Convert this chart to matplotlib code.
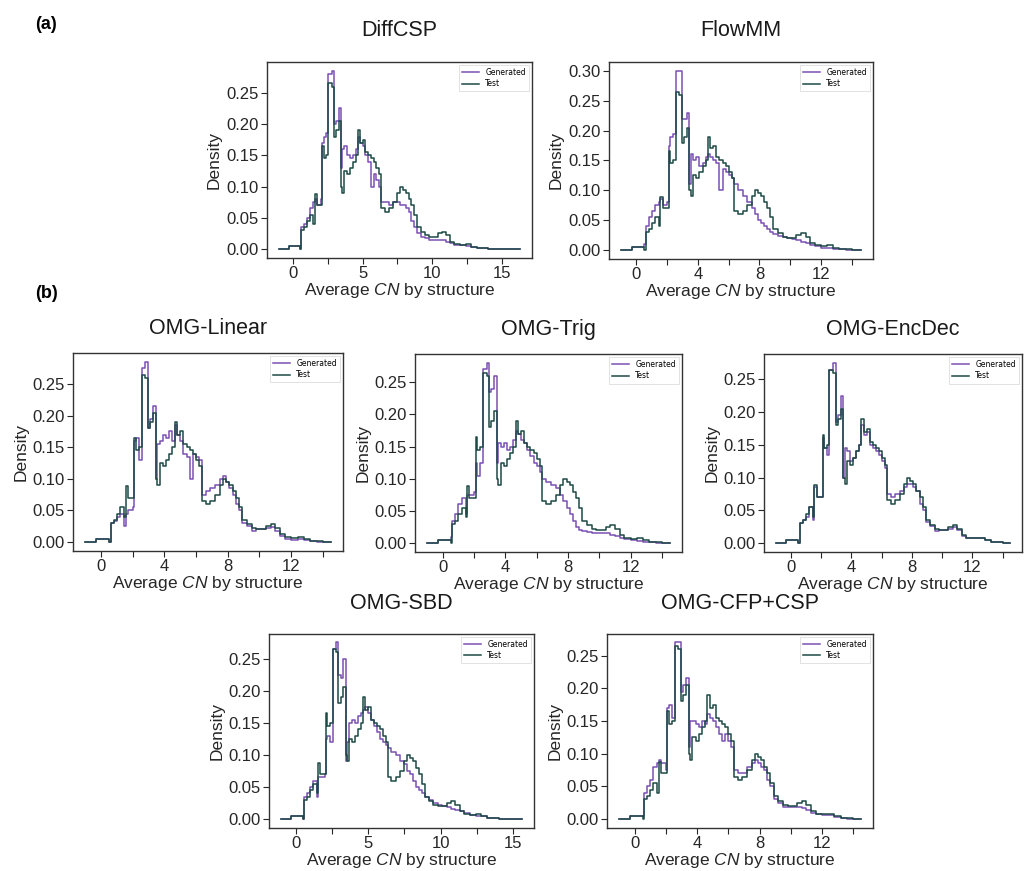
import numpy as np
import matplotlib
matplotlib.use("Agg")
import matplotlib.pyplot as plt
from matplotlib.ticker import MultipleLocator, FormatStrFormatter

plt.rcParams['font.family'] = ['Liberation Sans', 'DejaVu Sans']
plt.rcParams['mathtext.fontset'] = 'custom'
plt.rcParams['mathtext.rm'] = 'Liberation Sans'
plt.rcParams['mathtext.it'] = 'Liberation Sans:italic'

# step breakpoints (average CN) shared by all curves
cn = [-1.0, -0.3, 0.5, 0.6, 0.8, 1.0, 1.2, 1.45, 1.55, 1.7, 2.0, 2.1, 2.2, 2.4, 2.55,
      2.8, 2.95, 3.1, 3.3, 3.45, 3.55, 3.7, 3.9, 4.1, 4.3, 4.5, 4.65, 4.8, 5.0, 5.2,
      5.4, 5.6, 5.8, 6.0, 6.2, 6.35, 6.6, 6.9, 7.2, 7.5, 7.7, 7.9, 8.1, 8.3, 8.5,
      8.7, 8.9, 9.2, 9.5, 9.8, 10.1, 10.4, 10.7, 11.0, 11.3, 11.6, 12.0, 12.4, 12.8,
      13.2, 13.6, 14.0, 14.5, 16.3]

test = [0, 0.005, 0, 0.03, 0.035, 0.045, 0.055, 0.04, 0.088, 0.07, 0.07, 0.165, 0.145, 0.15, 0.265,
        0.26, 0.18, 0.19, 0.205, 0.10, 0.09, 0.125, 0.12, 0.13, 0.14, 0.15, 0.19, 0.17, 0.175, 0.155,
        0.15, 0.145, 0.14, 0.13, 0.12, 0.065, 0.06, 0.065, 0.075, 0.09, 0.1, 0.095, 0.09, 0.08, 0.07,
        0.055, 0.035, 0.028, 0.022, 0.02, 0.02, 0.025, 0.028, 0.022, 0.012, 0.008, 0.007, 0.008, 0.004,
        0.002, 0.001, 0.0, 0.0, 0.0]

gen_diffcsp = [0, 0.005, 0, 0.035, 0.04, 0.05, 0.065, 0.075, 0.08, 0.07, 0.08, 0.17, 0.18, 0.185, 0.28,
               0.285, 0.2, 0.205, 0.225, 0.13, 0.16, 0.165, 0.15, 0.145, 0.15, 0.16, 0.18, 0.17, 0.165, 0.15,
               0.14, 0.10, 0.12, 0.11, 0.10, 0.075, 0.075, 0.07, 0.075, 0.075, 0.07, 0.07, 0.065, 0.06, 0.045,
               0.035, 0.025, 0.02, 0.018, 0.015, 0.015, 0.015, 0.014, 0.012, 0.01, 0.007, 0.006, 0.005, 0.004,
               0.002, 0.001, 0.0005, 0.0003, 0.0]

gen_flowmm = [0, 0.005, 0.01, 0.04, 0.055, 0.065, 0.075, 0.08, 0.085, 0.075, 0.08, 0.175, 0.19, 0.195, 0.30,
              0.30, 0.22, 0.22, 0.23, 0.11, 0.16, 0.15, 0.155, 0.14, 0.145, 0.155, 0.16, 0.155, 0.15, 0.145,
              0.10, 0.135, 0.13, 0.125, 0.12, 0.11, 0.10, 0.09, 0.08, 0.07, 0.06, 0.05, 0.045, 0.04, 0.035,
              0.03, 0.027, 0.024, 0.022, 0.02, 0.018, 0.016, 0.014, 0.011, 0.008, 0.006, 0.004, 0.003, 0.002,
              0.001, 0.0005, 0.0, 0.0, 0.0]

gen_linear = [0, 0.005, 0, 0.03, 0.033, 0.04, 0.045, 0.025, 0.045, 0.05, 0.055, 0.16, 0.165, 0.13, 0.275,
              0.285, 0.18, 0.195, 0.215, 0.10, 0.155, 0.16, 0.17, 0.165, 0.175, 0.16, 0.185, 0.17, 0.16, 0.14,
              0.135, 0.10, 0.14, 0.135, 0.13, 0.075, 0.08, 0.085, 0.09, 0.1, 0.105, 0.095, 0.085, 0.075, 0.06,
              0.05, 0.03, 0.025, 0.018, 0.02, 0.02, 0.022, 0.024, 0.018, 0.01, 0.005, 0.003, 0.004, 0.003,
              0.001, 0.0005, 0.0, 0.0, 0.0]

gen_trig = [0, 0.005, 0.01, 0.035, 0.045, 0.06, 0.07, 0.045, 0.075, 0.075, 0.08, 0.125, 0.105, 0.125, 0.27,
            0.28, 0.235, 0.24, 0.26, 0.125, 0.155, 0.15, 0.155, 0.145, 0.15, 0.16, 0.175, 0.17, 0.16, 0.155,
            0.145, 0.135, 0.125, 0.12, 0.11, 0.10, 0.095, 0.09, 0.085, 0.075, 0.065, 0.055, 0.045, 0.035, 0.025,
            0.02, 0.018, 0.017, 0.016, 0.015, 0.015, 0.015, 0.013, 0.011, 0.008, 0.006, 0.004, 0.003, 0.002,
            0.001, 0.0005, 0.0, 0.0, 0.0]

gen_encdec = [0, 0.005, 0, 0.03, 0.035, 0.04, 0.055, 0.035, 0.085, 0.07, 0.07, 0.16, 0.145, 0.135, 0.265,
              0.275, 0.185, 0.195, 0.225, 0.10, 0.145, 0.14, 0.125, 0.13, 0.14, 0.15, 0.18, 0.165, 0.17, 0.15,
              0.145, 0.14, 0.135, 0.125, 0.115, 0.075, 0.07, 0.075, 0.08, 0.085, 0.09, 0.09, 0.085, 0.08, 0.06,
              0.05, 0.032, 0.026, 0.018, 0.02, 0.02, 0.022, 0.024, 0.02, 0.011, 0.008, 0.007, 0.007, 0.004,
              0.002, 0.001, 0.0, 0.0, 0.0]

gen_sbd = [0, 0.005, 0, 0.035, 0.04, 0.05, 0.06, 0.035, 0.065, 0.065, 0.07, 0.125, 0.13, 0.12, 0.265,
           0.275, 0.225, 0.22, 0.25, 0.09, 0.12, 0.15, 0.155, 0.15, 0.16, 0.165, 0.17, 0.175, 0.165, 0.155,
           0.145, 0.135, 0.125, 0.12, 0.115, 0.11, 0.105, 0.10, 0.09, 0.085, 0.075, 0.07, 0.06, 0.05, 0.045,
           0.04, 0.035, 0.03, 0.025, 0.022, 0.02, 0.018, 0.016, 0.014, 0.012, 0.009, 0.007, 0.005, 0.004,
           0.002, 0.001, 0.0005, 0.0002, 0.0]

gen_cfp = [0, 0.005, 0.005, 0.04, 0.05, 0.06, 0.08, 0.085, 0.09, 0.085, 0.075, 0.17, 0.175, 0.155, 0.27,
           0.27, 0.195, 0.205, 0.215, 0.11, 0.15, 0.15, 0.145, 0.14, 0.15, 0.145, 0.16, 0.155, 0.15, 0.14,
           0.13, 0.12, 0.13, 0.12, 0.11, 0.075, 0.07, 0.07, 0.08, 0.085, 0.09, 0.085, 0.08, 0.075, 0.06,
           0.05, 0.03, 0.025, 0.018, 0.018, 0.018, 0.018, 0.017, 0.014, 0.01, 0.007, 0.006, 0.006, 0.003,
           0.001, 0.0005, 0.0, 0.0, 0.0]

titles = ['DiffCSP', 'FlowMM', 'OMG-Linear', 'OMG-Trig', 'OMG-EncDec', 'OMG-SBD', 'OMG-CFP+CSP']
generated = [gen_diffcsp, gen_flowmm, gen_linear, gen_trig, gen_encdec, gen_sbd, gen_cfp]
x_end = [16.3, 14.6, 14.5, 14.5, 14.5, 15.6, 14.5]
tick_step = [2.5, 2, 2, 2, 2, 2.5, 2]

# axes boxes in figure fractions: left, bottom, width, height
boxes = [[0.2607, 0.7038, 0.2588, 0.2250],
         [0.5947, 0.7027, 0.2578, 0.2262],
         [0.0713, 0.3674, 0.2637, 0.2273],
         [0.4053, 0.3662, 0.2607, 0.2273],
         [0.7461, 0.3662, 0.2520, 0.2273],
         [0.2627, 0.0495, 0.2588, 0.2230],
         [0.5928, 0.0495, 0.2598, 0.2230]]
title_pad = [19, 19, 14, 14, 14, 18, 18]

gen_color = '#7b4fb3'
test_color = '#1d4a45'
text_color = '#262626'

fig = plt.figure(figsize=(10.24, 8.71), dpi=100)

x_all = np.array(cn)
for i in range(7):
    ax = fig.add_axes(boxes[i])
    keep = x_all <= x_end[i]
    x = np.append(x_all[keep], x_end[i])
    g = np.array(generated[i])[keep]
    t = np.array(test)[keep]
    g = np.append(g, g[-1])
    t = np.append(t, t[-1])
    ax.plot(x, g, drawstyle='steps-post', color=gen_color, lw=1.1, label='Generated')
    ax.plot(x, t, drawstyle='steps-post', color=test_color, lw=1.1, label='Test')

    ax.set_title(titles[i], fontsize=15.5, pad=title_pad[i], color='#1a1a1a')
    ax.set_ylabel('Density', fontsize=12.5, color=text_color, labelpad=3)
    ax.set_xlabel('Average $\\mathit{CN}$ by structure', fontsize=12.5, color=text_color, labelpad=0)

    step = tick_step[i]
    ticks = np.arange(0, x_end[i] + 0.01, step)
    ax.set_xticks(ticks)
    ax.set_xticklabels(['%g' % v if k % 2 == 0 else '' for k, v in enumerate(ticks)])
    ax.yaxis.set_major_locator(MultipleLocator(0.05))
    ax.yaxis.set_major_formatter(FormatStrFormatter('%.2f'))
    ax.tick_params(direction='out', length=4, width=0.8, labelsize=12,
                   colors=text_color, pad=2)
    for s in ax.spines.values():
        s.set_color('#333333')
        s.set_linewidth(1.0)

    leg = ax.legend(loc='upper right', prop={'family': 'DejaVu Sans', 'size': 5.5},
                    fancybox=False, handlelength=2.2, borderaxespad=0.4,
                    labelspacing=0.3, framealpha=1)
    leg.get_frame().set_edgecolor('#dddddd')
    leg.get_frame().set_linewidth(0.6)

fig.text(0.034, 0.972, '(a)', fontsize=13, fontweight='bold', va='center')
fig.text(0.034, 0.663, '(b)', fontsize=13, fontweight='bold', va='center')

plt.savefig('out.png', dpi=100)
